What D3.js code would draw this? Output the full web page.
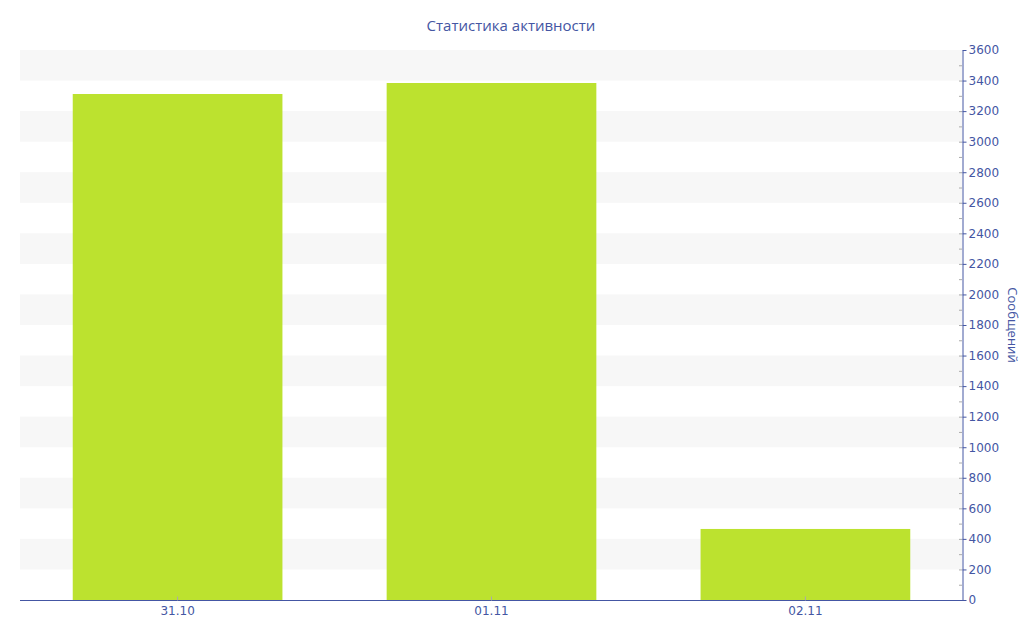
<!DOCTYPE html>
<html><head><meta charset="utf-8">
<script src="https://cdn.jsdelivr.net/npm/d3@7"></script>
<style>body{margin:0;background:#fff}svg{display:block}</style>
</head><body>
<svg id="c" width="1024" height="640"></svg>
<script>
const categories = ["31.10", "01.11", "02.11"];
const values = [3312, 3384, 465];
const yTicks = [0,200,400,600,800,1000,1200,1400,1600,1800,2000,2200,2400,2600,2800,3000,3200,3400,3600];
const chartTitle = "Статистика активности";
const yTitle = "Сообщений";

(function(){
const svg = d3.select("#c");
const mL = 20, mR = 963, mT = 50, mB = 600;
const x = d3.scaleBand().domain(categories).range([mL, mR]).paddingInner(0.332).paddingOuter(0.168);
const y = d3.scaleLinear().domain([0, 3600]).range([mB, mT]);
const blue = "#4456a3";

for (let i = 0; i < yTicks.length - 1; i++) {
  if (i % 2 === 1) {
    svg.append("rect").attr("x", mL).attr("width", mR - 1 - mL)
      .attr("y", y(yTicks[i+1])).attr("height", y(yTicks[i]) - y(yTicks[i+1]))
      .attr("fill", "#f7f7f7");
  }
}

svg.selectAll(".bar").data(categories).enter().append("rect")
  .attr("x", d => x(d)).attr("width", x.bandwidth())
  .attr("y", (d,i) => y(values[i])).attr("height", (d,i) => y(0) - y(values[i]))
  .attr("fill", "#bce22f");

const minor = d3.range(100, 3600, 100);
svg.selectAll(".mt").data(minor).enter().append("line")
  .attr("x1", mR - 4).attr("x2", mR - 1).attr("y1", d => y(d) + 0.5).attr("y2", d => y(d) + 0.5)
  .attr("stroke", "#aaa").attr("stroke-width", 1);

const yAxis = svg.append("g").attr("transform", `translate(${mR - 0.5},0)`)
  .call(d3.axisRight(y).tickValues(yTicks).tickSize(4).tickPadding(2).tickSizeOuter(0).tickFormat(d3.format("d")));
yAxis.select(".domain").attr("stroke", blue);
yAxis.selectAll(".tick line").attr("stroke", blue);
yAxis.selectAll("text").attr("fill", blue).style("font-family", "DejaVu Sans").style("font-size", "12px");

const xAxis = svg.append("g").attr("transform", `translate(0,${mB + 0.5})`)
  .call(d3.axisBottom(x).tickSize(-4).tickPadding(6).tickSizeOuter(0));
xAxis.select(".domain").attr("stroke", blue).attr("d", `M${mL},0H${mR}`);
xAxis.selectAll(".tick line").attr("stroke", "#aaa");
xAxis.selectAll("text").attr("fill", blue).style("font-family", "DejaVu Sans").style("font-size", "12px");

svg.append("text").attr("x", 511).attr("y", 31).attr("text-anchor", "middle")
  .attr("fill", blue).style("font-family", "Open Sans").style("font-size", "15px").text(chartTitle);

svg.append("text").attr("transform", `translate(1008,325) rotate(90)`).attr("text-anchor", "middle")
  .attr("fill", blue).style("font-family", "Open Sans").style("font-size", "13px").text(yTitle);
})();
</script>
</body></html>
